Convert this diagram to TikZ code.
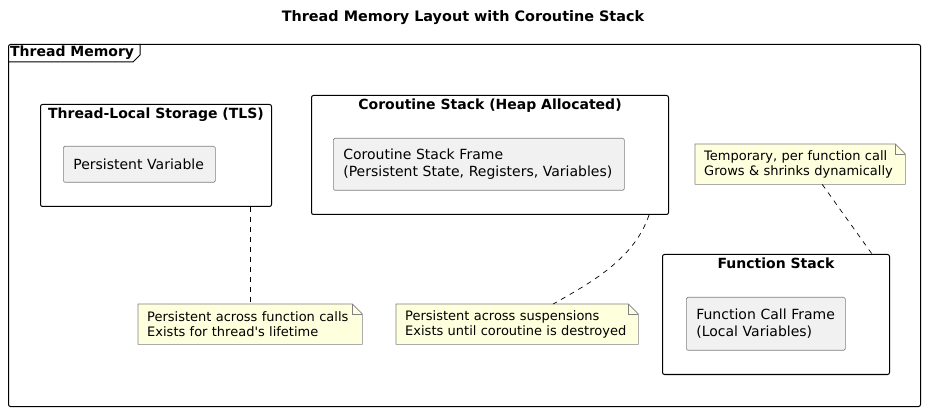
\documentclass[tikz,border=0pt]{standalone}
\usepackage{fontspec}
\setmainfont{DejaVu Sans}[Ligatures=TeXOff]
\usetikzlibrary{positioning}

\definecolor{compfill}{HTML}{F1F1F1}
\definecolor{notefill}{HTML}{FEFFDD}
\newcommand{\titlefont}{\fontsize{14}{17}\selectfont\bfseries}
\newcommand{\compfont}{\fontsize{14}{17}\selectfont}
\newcommand{\notefont}{\fontsize{13}{15}\selectfont}

\tikzset{
  pkg/.style={draw, line width=1pt, rounded corners=2pt, anchor=north west, inner sep=0pt},
  pkgtitle/.style={anchor=north, font=\titlefont, inner sep=0pt, yshift=-4pt},
  comp/.style={draw=black!50, line width=0.6pt, fill=compfill, rounded corners=1.5pt,
    anchor=north west, inner xsep=10pt, inner ysep=0pt, align=left, font=\compfont},
  notebox/.style={fill=notefill, anchor=north west, inner xsep=9pt, inner ysep=0pt,
    align=left, font=\notefont, minimum height=40pt},
  noteline/.style={draw=black!50, line width=0.6pt},
  link/.style={dash pattern=on 5pt off 5pt, line width=0.7pt}
}

% dog-ear outline of a note
\newcommand{\notefold}[1]{%
  \fill[white] ([xshift=-10pt]#1.north east) -- (#1.north east) -- ([yshift=-10pt]#1.north east) -- cycle;
  \draw[noteline] (#1.north west) -- ([xshift=-10pt]#1.north east) -- ([yshift=-10pt]#1.north east)
    -- (#1.south east) -- (#1.south west) -- cycle;
  \draw[noteline] ([xshift=-10pt]#1.north east) -- ([xshift=-10pt,yshift=-10pt]#1.north east)
    -- ([yshift=-10pt]#1.north east);}

\begin{document}
\begin{tikzpicture}[x=1pt,y=-1pt]
  \useasboundingbox (0,0) rectangle (926,411);
  \node[font=\fontsize{14.4}{17}\selectfont\bfseries, inner sep=0pt] (title) at (463,18) {Thread Memory Layout with Coroutine Stack};

  % outer frame
  \node[pkg, minimum width=912pt, minimum height=362pt] (mem) at (8,44) {};
  \draw[line width=1pt] ([yshift=-18pt]mem.north west) -- ++(125,0) -- ++(7,-7) -- ++(0,-11);
  \node[font=\titlefont, anchor=west, inner sep=0pt] (memT) at (10,53) {Thread Memory};

  % TLS
  \node[pkg, minimum width=231pt, minimum height=102pt] (tls) at (40,104) {};
  \node[pkgtitle] (tlsT) at (tls.north) {Thread-Local Storage (TLS)};
  \node[comp, text width=132pt, minimum height=36pt] (pvar) at (63,146) {Persistent Variable};

  % coroutine stack
  \node[pkg, minimum width=357pt, minimum height=119pt] (cor) at (311,95) {};
  \node[pkgtitle] (corT) at (cor.north) {Coroutine Stack (Heap Allocated)};
  \node[comp, text width=271pt, minimum height=52pt] (cframe) at (333,138)
    {Coroutine Stack Frame\\(Persistent State, Registers, Variables)};

  % function stack
  \node[pkg, minimum width=227pt, minimum height=120pt] (fst) at (662,254) {};
  \node[pkgtitle] (fstT) at (fst.north) {Function Stack};
  \node[comp, text width=139pt, minimum height=53pt] (fframe) at (686,297)
    {Function Call Frame\\(Local Variables)};

  % notes
  \node[notebox, text width=206pt] (n1) at (138,304)
    {Persistent across function calls\\Exists for thread's lifetime};
  \notefold{n1}
  \node[notebox, text width=224pt] (n2) at (396,304)
    {Persistent across suspensions\\Exists until coroutine is destroyed};
  \notefold{n2}
  \node[notebox, text width=192pt] (n3) at (695,144)
    {Temporary, per function call\\Grows \& shrinks dynamically};
  \notefold{n3}

  \draw[link] (n1.north |- tls.south) -- (n1.north);
  \draw[link] ([xshift=-20pt]cor.south east) .. controls +(-15,45) and +(35,-20) .. ([xshift=36pt]n2.north);
  \draw[link] ([xshift=22pt]n3.south) -- ([xshift=96pt]fst.north);
\end{tikzpicture}
\end{document}
